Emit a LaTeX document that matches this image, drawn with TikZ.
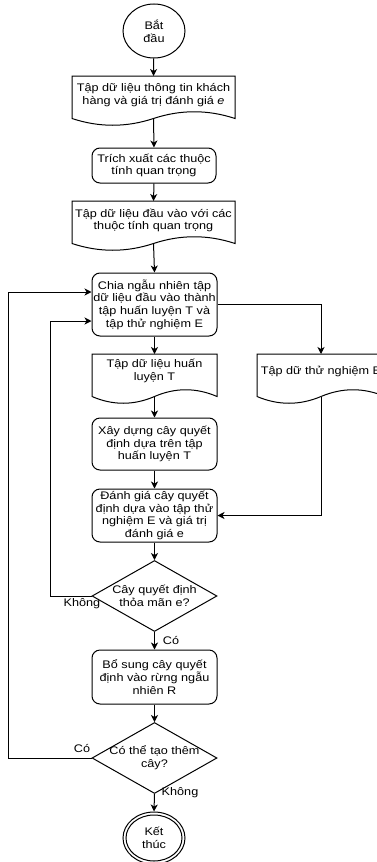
\documentclass[tikz,border=0pt]{standalone}
\usepackage{fontspec}
\setmainfont{Liberation Sans}[FakeStretch=1.15]
\usetikzlibrary{shapes.geometric,arrows.meta,calc}
\newcommand\docoutline[4]{% left, top, width, height
  \draw[ln] (#1,#2) -- ({#1+#3},#2) -- ({#1+#3},{#2+0.85*#4})
    .. controls ({#1+0.8333*#3},{#2+0.67*#4}) and ({#1+0.6667*#3},{#2+0.67*#4}) .. ({#1+0.5*#3},{#2+0.85*#4})
    .. controls ({#1+0.3333*#3},{#2+1.03*#4}) and ({#1+0.1667*#3},{#2+1.03*#4}) .. (#1,{#2+0.85*#4}) -- cycle;}
\tikzset{
  ln/.style={line width=1pt, draw=black},
  txt/.style={font=\fontsize{11}{12.7}\selectfont, align=center, inner sep=0pt, text=black},
  proc/.style={txt, ln, rounded corners=8pt, minimum width=125pt},
  dia/.style={ln, diamond, inner sep=0pt, minimum width=125pt, minimum height=71pt},
  term/.style={txt, ln, ellipse, minimum width=62pt, minimum height=54pt},
  arr/.style={ln, -{Stealth[length=7pt,width=7pt,inset=2pt]}},
  lbl/.style={txt}
}
\begin{document}
\begin{tikzpicture}[x=1pt,y=-1pt]
\useasboundingbox (0,0) rectangle (376,862);
% start
\node[term] (start) at (154,31) {Bắt\\đầu};
% document 1
\docoutline{72}{76}{163}{50}
\coordinate (d1n) at (153.5,76);
\coordinate (d1s) at (153.5,118.5);
\node[txt] (d1t) at (153.5,95) {Tập dữ liệu thông tin khách\\hàng và giá trị đánh giá \textit{e}};
% process 1
\node[proc, minimum width=124pt, minimum height=35pt] (p1) at (154,165.5) {Trích xuất các thuộc\\tính quan trọng};
% document 2
\docoutline{72}{201}{163}{50}
\coordinate (d2n) at (153.5,201);
\coordinate (d2s) at (153.5,243.5);
\node[txt] (d2t) at (153.5,220.5) {Tập dữ liệu đầu vào với các\\thuộc tính quan trọng};
% split
\node[proc, minimum height=63pt] (chia) at (154.5,304.5) {Chia ngẫu nhiên tập\\dữ liệu đầu vào thành\\tập huấn luyện T và\\tập thử nghiệm E};
\coordinate (cin1) at ([yshift=12.5pt]chia.west);
\coordinate (cin2) at ([yshift=-16.5pt]chia.west);
% document T
\docoutline{92}{354}{125}{50}
\coordinate (dTn) at (154.5,354);
\coordinate (dTs) at (154.5,396.5);
\node[txt] (dTt) at (154.5,371) {Tập dữ liệu huấn\\luyện T};
% document E
\docoutline{257}{354}{128}{50}
\coordinate (dEn) at (321,354);
\coordinate (dEs) at (321,396.5);
\node[txt] (dEt) at (321,371) {Tập dữ thử nghiệm E};
% build
\node[proc, minimum height=52pt] (xay) at (154.5,444) {Xây dựng cây quyết\\định dựa trên tập\\huấn luyện T};
% evaluate
\node[proc, minimum height=53pt] (danh) at (154.5,515.5) {Đánh giá cây quyết\\định dựa vào tập thử\\nghiệm E và giá trị\\đánh giá e};
% decision 1
\node[dia] (q1) at (154.5,596) {};
\node[txt] (q1t) at (q1.center) {Cây quyết định\\thỏa mãn e?};
% add
\node[proc, minimum height=54pt] (bo) at (154.5,677) {Bổ sung cây quyết\\định vào rừng ngẫu\\nhiên R};
% decision 2
\node[dia] (q2) at (154.5,758) {};
\node[txt] (q2t) at (q2.center) {Có thể tạo thêm\\cây?};
% end
\node[term, minimum height=52pt] (end) at (154,838) {Kết\\thúc};
\draw[ln] (end.center) ellipse (28 and 23);
% loop coordinates
\coordinate (loopA) at (50,0);
\coordinate (loopB) at (8,0);
% connectors
\draw[arr] (start) -- (d1n);
\draw[arr] (d1s) -- (p1.north);
\draw[arr] (p1.south) -- (d2n);
\draw[arr] (d2s) -- (chia.north);
\draw[arr] (chia.south) -- (dTn);
\draw[arr] (chia.east) -| (dEn);
\draw[arr] (dTs) -- (xay.north);
\draw[arr] (xay.south) -- (danh.north);
\draw[arr] (dEs) |- (danh.east);
\draw[arr] (danh.south) -- (q1.north);
\draw[arr] (q1.west) -- (q1.west -| loopA) |- (cin2);
\draw[arr] (q1.south) -- (bo.north);
\draw[arr] (bo.south) -- (q2.north);
\draw[arr] (q2.west) -- (q2.west -| loopB) |- (cin1);
\draw[arr] (q2.south) -- (end.north);
% labels
\node[lbl] (l1) at (82,604) {Không};
\node[lbl] (l2) at (171,640) {Có};
\node[lbl] (l3) at (82,748) {Có};
\node[lbl] (l4) at (180,793) {Không};
\end{tikzpicture}
\end{document}
